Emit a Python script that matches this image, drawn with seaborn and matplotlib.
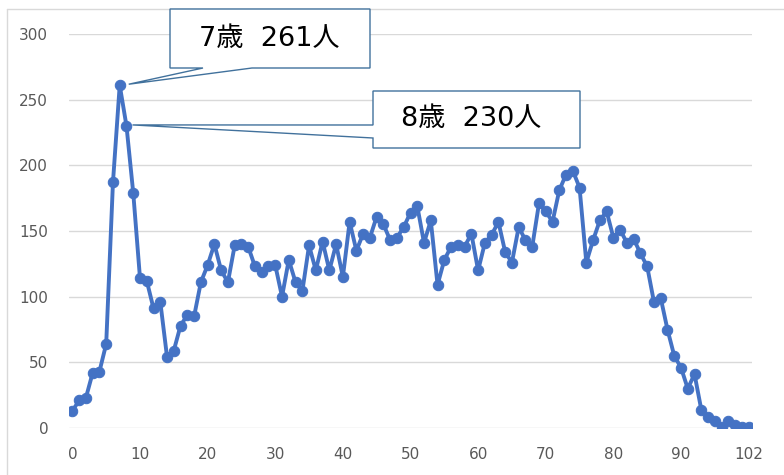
import numpy as np
import pandas as pd
import matplotlib
matplotlib.use("Agg")
import matplotlib.pyplot as plt
import seaborn as sns
from matplotlib.patches import Polygon
from matplotlib.lines import Line2D

# ---- data ----
ages = list(range(0, 99)) + [100, 102]
counts = [13, 21, 23, 42, 43, 64, 187, 261, 230, 179,
          114, 112, 91, 96, 54, 59, 78, 86, 85, 111,
          124, 140, 120, 111, 139, 140, 138, 123, 119, 123,
          124, 100, 128, 111, 104, 139, 120, 142, 120, 140,
          115, 157, 135, 148, 145, 161, 155, 143, 145, 153,
          164, 169, 141, 158, 109, 128, 138, 139, 138, 148,
          120, 141, 147, 157, 134, 126, 153, 143, 138, 171,
          165, 157, 181, 193, 196, 183, 126, 143, 158, 165,
          145, 151, 141, 144, 133, 123, 96, 99, 75, 55,
          46, 30, 41, 14, 8, 5, 1, 5, 2, 1, 1]
y_ticks = [0, 50, 100, 150, 200, 250, 300]
callout_ages = [7, 8]

df = pd.DataFrame({"pos": np.arange(len(ages)), "age": ages, "count": counts})

sns.set_theme(style="white")
plt.rcParams["font.family"] = ["DejaVu Sans", "Noto Sans CJK JP"]

W, H = 784, 475
fig = plt.figure(figsize=(W / 100, H / 100), dpi=100)
ax = fig.add_axes([69 / W, 1 - 428 / H, (752 - 69) / W, (428 - 34) / H])

line_color = "#4472C4"
sns.lineplot(data=df, x="pos", y="count", ax=ax, color=line_color,
             linewidth=2.8, marker="o", markersize=7.5,
             markeredgecolor=line_color, markerfacecolor=line_color, zorder=3)

ax.set_xlim(-0.5, len(ages) - 0.5)
ax.set_ylim(y_ticks[0], y_ticks[-1])
ax.set_yticks(y_ticks)
tick_pos = list(range(0, len(ages), 10))
ax.set_xticks(tick_pos)
ax.set_xticklabels([str(ages[p]) for p in tick_pos])
ax.set_xlabel("")
ax.set_ylabel("")
ax.grid(axis="y", color="#D9D9D9", linewidth=1.0)
ax.grid(axis="x", visible=False)
ax.set_axisbelow(True)
for s in ax.spines.values():
    s.set_visible(False)
ax.tick_params(axis="both", length=0, labelsize=11, colors="#595959")
ax.tick_params(axis="y", pad=15)
ax.tick_params(axis="x", pad=14)

# chart-area border (top and left visible)
fig.add_artist(Line2D([7 / W, 7 / W], [0, 1 - 9 / H], transform=fig.transFigure,
                      color="#D9D9D9", linewidth=1.0))
fig.add_artist(Line2D([7 / W, 1], [1 - 9 / H, 1 - 9 / H], transform=fig.transFigure,
                      color="#D9D9D9", linewidth=1.0))

fig.canvas.draw()


def to_fig(px, py):
    return (px / W, 1 - py / H)


def data_px(age):
    i = ages.index(age)
    dx, dy = ax.transData.transform((i, counts[i]))
    return dx, H - dy


edge = "#41719C"

# callout 1 (7歳)
tx, ty = data_px(callout_ages[0])
tip1 = (tx + 9, ty - 1)
box1 = [(170, 9), (370, 9), (370, 68), (252, 68), tip1, (203, 68), (170, 68)]
fig.add_artist(Polygon([to_fig(*p) for p in box1], closed=True, transform=fig.transFigure,
                       facecolor="white", edgecolor=edge, linewidth=1.0, zorder=10))
a0 = callout_ages[0]
fig.text(*to_fig(269, 39), f"{a0}歳  {counts[ages.index(a0)]}人", ha="center", va="center",
         fontsize=19.5, color="black", zorder=11)

# callout 2 (8歳)
tx, ty = data_px(callout_ages[1])
tip2 = (tx + 6, ty - 1)
box2 = [(373, 91), (580, 91), (580, 148), (373, 148), (373, 138), tip2, (373, 125)]
fig.add_artist(Polygon([to_fig(*p) for p in box2], closed=True, transform=fig.transFigure,
                       facecolor="white", edgecolor=edge, linewidth=1.0, zorder=10))
a1 = callout_ages[1]
fig.text(*to_fig(471, 119), f"{a1}歳  {counts[ages.index(a1)]}人", ha="center", va="center",
         fontsize=19.5, color="black", zorder=11)

fig.savefig("out.png", dpi=100)
